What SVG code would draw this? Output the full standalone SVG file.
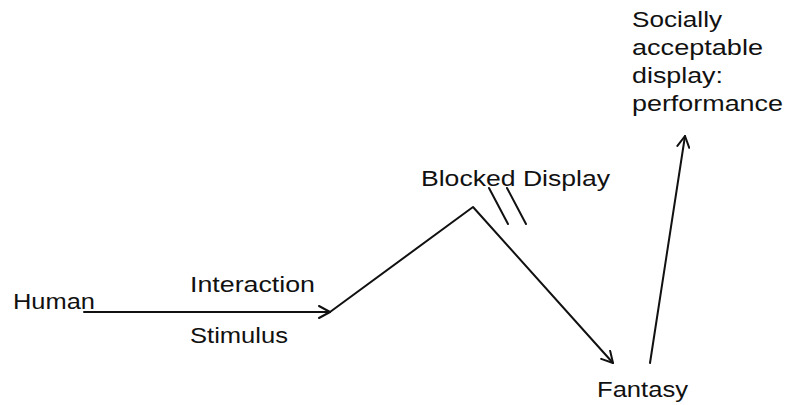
<svg xmlns="http://www.w3.org/2000/svg" width="787" height="405" viewBox="0 0 787 405">
  <style>
    .lbl { font-family: "Liberation Sans", Arial, sans-serif; font-size: 22px; fill: #111; }
    .edge { fill: none; stroke: #111; stroke-width: 2; stroke-linecap: round; stroke-linejoin: round; }
  </style>
  <defs>
    <marker id="arrow" viewBox="0 0 14 14" refX="12" refY="7" markerWidth="14" markerHeight="14" markerUnits="userSpaceOnUse" orient="auto">
      <path d="M1,1 L12,7 L1,13" fill="none" stroke="#111" stroke-width="2" stroke-linecap="round" stroke-linejoin="round"/>
    </marker>
  </defs>
  <rect width="787" height="405" fill="#fff"/>

  <g id="connectors">
    <path class="edge" d="M84,312 L330,312" marker-end="url(#arrow)"/>
    <path class="edge" d="M330,312 L473,207 L613,363" marker-end="url(#arrow)"/>
    <path class="edge" d="M650,363 L685,136" marker-end="url(#arrow)"/>
    <!-- blocked marks -->
    <path class="edge" d="M489,188 L508,224"/>
    <path class="edge" d="M507,188 L526,224"/>
  </g>

  <g id="human"><text class="lbl" x="13" y="309" textLength="82" lengthAdjust="spacingAndGlyphs">Human</text></g>
  <g id="interaction"><text class="lbl" x="190" y="292" textLength="125" lengthAdjust="spacingAndGlyphs">Interaction</text></g>
  <g id="stimulus"><text class="lbl" x="190" y="343" textLength="98" lengthAdjust="spacingAndGlyphs">Stimulus</text></g>
  <g id="blocked-display"><text class="lbl" x="421" y="186" textLength="189" lengthAdjust="spacingAndGlyphs">Blocked Display</text></g>
  <g id="fantasy"><text class="lbl" x="597" y="397" textLength="91" lengthAdjust="spacingAndGlyphs">Fantasy</text></g>
  <g id="performance">
    <text class="lbl" x="632" y="27" textLength="90" lengthAdjust="spacingAndGlyphs">Socially</text>
    <text class="lbl" x="632" y="55" textLength="131" lengthAdjust="spacingAndGlyphs">acceptable</text>
    <text class="lbl" x="632" y="83" textLength="91" lengthAdjust="spacingAndGlyphs">display:</text>
    <text class="lbl" x="632" y="111" textLength="151" lengthAdjust="spacingAndGlyphs">performance</text>
  </g>
</svg>
